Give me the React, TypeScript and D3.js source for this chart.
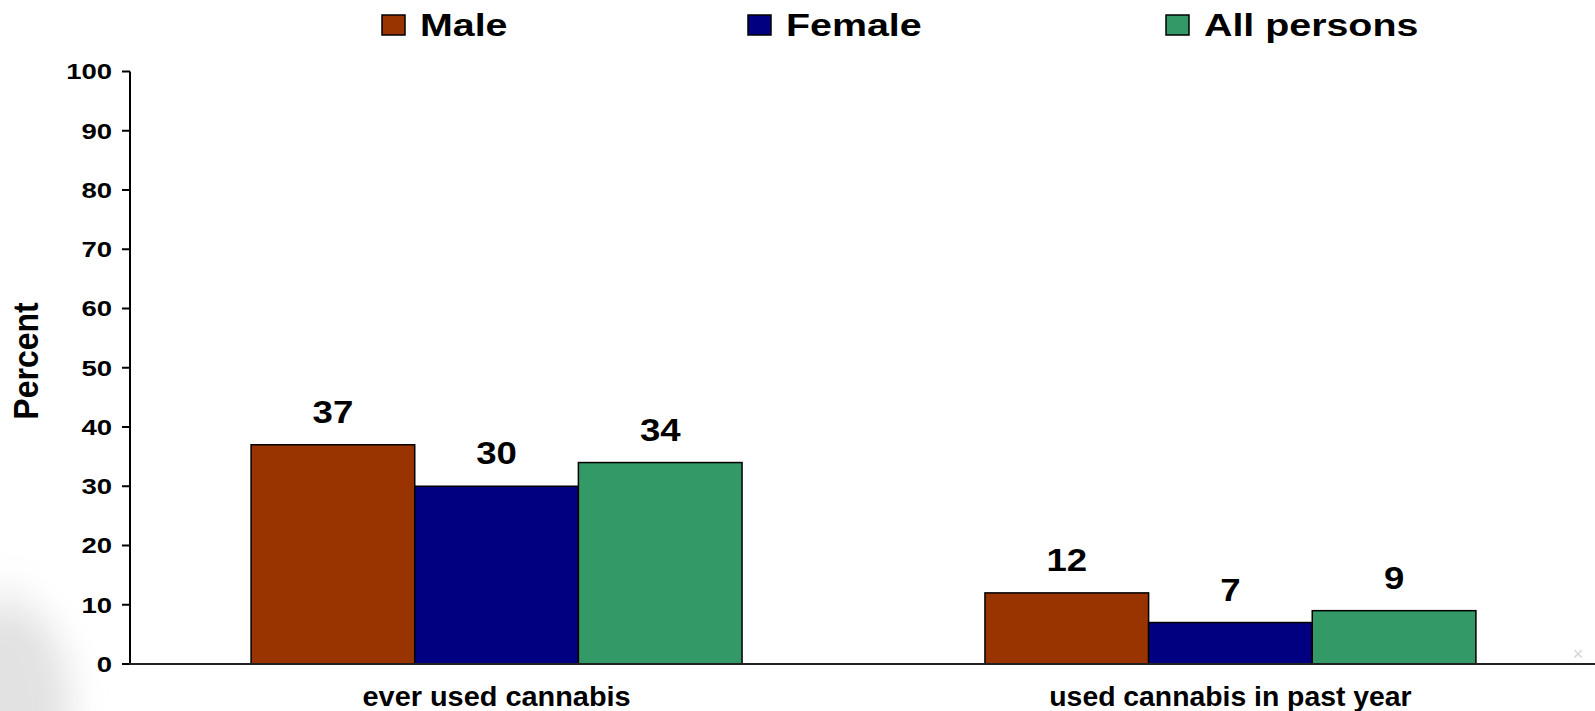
import React from "react";
import * as d3 from "d3";

// Survey categories, series and values (percent)
const categories = ["ever used cannabis", "used cannabis in past year"];
const seriesNames = ["Male", "Female", "All persons"];
const maleValues = [37, 12];
const femaleValues = [30, 7];
const allValues = [34, 9];
const yTicks = [0, 10, 20, 30, 40, 50, 60, 70, 80, 90, 100];
const seriesColors = ["#993300", "#000080", "#339966"];

const W = 1595;
const H = 711;
const FONT = "'Liberation Sans', Arial, Helvetica, sans-serif";

export default function App() {
  const seriesValues = [maleValues, femaleValues, allValues];

  const x0 = d3
    .scaleBand<string>()
    .domain(categories)
    .range([130, 1597])
    .paddingInner(0.331)
    .paddingOuter(0.165);
  const x1 = d3
    .scaleBand<string>()
    .domain(seriesNames)
    .range([0, x0.bandwidth()]);
  const y = d3.scaleLinear().domain([0, 100]).range([664, 71.5]);

  const legendX = [382, 748, 1166];

  return (
    <svg
      width={W}
      height={H}
      viewBox={`0 0 ${W} ${H}`}
      style={{ position: "absolute", left: 0, top: 0, background: "#fff" }}
      fontFamily={FONT}
      fontWeight="bold"
    >
      <defs>
        <filter id="haze" x="-100%" y="-100%" width="300%" height="300%">
          <feGaussianBlur stdDeviation="18" />
        </filter>
      </defs>
      <rect x={0} y={0} width={W} height={H} fill="#fff" />
      {/* soft grey smudge in the lower-left corner */}
      <ellipse cx={5} cy={705} rx={65} ry={105} fill="#e2e2e2" filter="url(#haze)" />
      <rect x={0} y={578} width={22} height={30} fill="#eeeeee" filter="url(#haze)" opacity={0.6} />

      {/* legend */}
      {seriesNames.map((name, i) => (
        <g key={name}>
          <rect
            x={legendX[i]}
            y={15}
            width={23}
            height={20}
            fill={seriesColors[i]}
            stroke="#000"
            strokeWidth={1.5}
          />
          <text
            transform={`translate(${legendX[i] + 38},36) scale(1.27,1)`}
            fontSize={31}
            fill="#000"
          >
            {name}
          </text>
        </g>
      ))}

      {/* y axis label */}
      <text
        transform="translate(38,361) scale(1.1,1) rotate(-90)"
        textAnchor="middle"
        fontSize={32}
        fill="#000"
      >
        Percent
      </text>

      {/* bars */}
      {categories.map((cat, ci) => (
        <g key={cat} transform={`translate(${x0(cat)},0)`}>
          {seriesNames.map((s, si) => {
            const v = seriesValues[si][ci];
            return (
              <rect
                key={s}
                x={x1(s)}
                y={y(v)}
                width={x1.bandwidth()}
                height={y(0) - y(v)}
                fill={seriesColors[si]}
                stroke="#000"
                strokeWidth={1.5}
              />
            );
          })}
          {seriesNames.map((s, si) => {
            const v = seriesValues[si][ci];
            return (
              <text
                key={s + "-lbl"}
                transform={`translate(${(x1(s) as number) + x1.bandwidth() / 2},${y(v) - 22}) scale(1.18,1)`}
                textAnchor="middle"
                fontSize={31}
                fill="#000"
              >
                {v}
              </text>
            );
          })}
        </g>
      ))}

      {/* y axis */}
      <line x1={130} x2={130} y1={y(100)} y2={y(0)} stroke="#000" strokeWidth={2} />
      {yTicks.map((t) => (
        <g key={t}>
          <line x1={122} x2={130} y1={y(t)} y2={y(t)} stroke="#000" strokeWidth={2} />
          <text
            transform={`translate(112,${y(t)}) scale(1.25,1)`}
            textAnchor="end"
            dy="0.36em"
            fontSize={22}
            fill="#000"
          >
            {t}
          </text>
        </g>
      ))}

      {/* x axis */}
      <line x1={129} x2={W} y1={y(0)} y2={y(0)} stroke="#222" strokeWidth={2.2} />
      {categories.map((cat, i) => (
        <text
          key={cat}
          transform={`translate(${(x0(cat) as number) + x0.bandwidth() / 2},706) scale(${i === 0 ? 1.07 : 1.05},1)`}
          textAnchor="middle"
          fontSize={27}
          fill="#000"
        >
          {cat}
        </text>
      ))}

      <text x={1578} y={660} textAnchor="middle" fontSize={18} fontWeight="normal" fill="#d4d4d4">
        ×
      </text>
    </svg>
  );
}
